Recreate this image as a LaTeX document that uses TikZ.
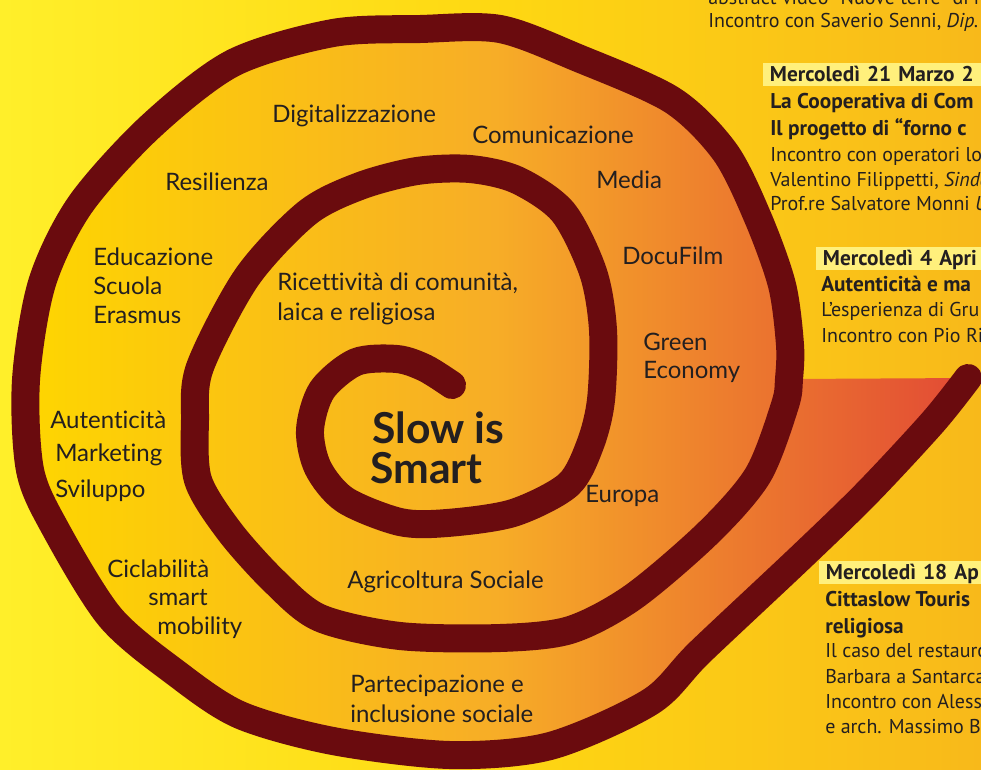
\documentclass[tikz,border=0pt]{standalone}
\usepackage{fontspec}
\setmainfont{Lato}[Ligatures=NoCommon]
\newfontfamily\infofont{PT Sans}
\usetikzlibrary{positioning}

\definecolor{snail}{HTML}{6A0B0E}
\definecolor{ink}{HTML}{231F20}
\definecolor{bgleft}{HTML}{FFEF2A}
\definecolor{bgmid}{HTML}{FED812}
\definecolor{bgright}{HTML}{F8B91A}
\definecolor{inleft}{HTML}{FED600}
\definecolor{inmid}{HTML}{F7AD27}
\definecolor{inright}{HTML}{E24A35}
\definecolor{hilite}{HTML}{FFF07C}

\tikzset{
  shell/.style={draw=snail, line width=21pt, line cap=round, line join=round},
  lbl/.style={font=\fontsize{18}{22}\selectfont, text=ink, anchor=base west, inner sep=0pt},
  motto/.style={font=\bfseries\fontsize{32}{38}\selectfont, text=ink, anchor=base west, inner sep=0pt},
  info/.style={font=\infofont\fontsize{15}{18}\selectfont, text=ink, anchor=base west, inner sep=0pt},
  infob/.style={info, font=\infofont\bfseries\fontsize{16}{19}\selectfont},
  datebox/.style={infob, fill=hilite, text width=200pt, align=left, inner xsep=5pt,
    inner ysep=0pt, text height=13.5pt, text depth=3.75pt}
}

\begin{document}
\begin{tikzpicture}[x=0.75pt, y=-0.75pt]

\path[use as bounding box, clip] (0,0) rectangle (981,769);

\shade[left color=bgleft, right color=bgright, middle color=bgmid] (0,0) rectangle (981,769);

\shade[left color=inleft, right color=inright, middle color=inmid]
  plot[smooth] coordinates {(789,379) (790,345) (782,285) (758,218) (725,152) (672,100)
  (578,58) (500,29) (420,29) (333,33) (233,63) (150,127) (80,205) (42,283) (26,380)
  (30,470) (55,528) (110,617) (176,673) (240,715) (333,741) (450,755) (550,746)
  (650,702) (700,652) (800,558) (867,493) (933,422) (968,378)} -- cycle;

\draw[shell] plot[smooth] coordinates {(452,385) (425,368) (397,359) (356,362) (322,390)
  (310,430) (318,468) (345,500) (400,522) (447,523) (513,513) (568,485) (590,445)
  (601,400) (603,330) (593,272) (563,212) (517,180) (470,169) (417,171) (360,186)
  (307,213) (247,277) (200,367) (195,420) (198,480) (230,532) (275,582) (320,618)
  (400,636) (500,638) (570,630) (633,597) (708,533) (758,475) (785,405) (789,379)
  (790,345) (782,285) (758,218) (725,152) (672,100) (578,58) (500,29) (420,29)
  (333,33) (233,63) (150,127) (80,205) (42,283) (26,380) (30,470) (55,528) (110,617)
  (176,673) (240,715) (333,741) (450,755) (550,746) (650,702) (700,652) (800,558)
  (867,493) (933,422) (968,378)};

\node[lbl] (dig) at (272,122) {Digitalizzazione};
\node[lbl] (com) at (472,143) {Comunicazione};
\node[lbl] (res) at (165,190) {Resilienza};
\node[lbl] (med) at (596,188) {Media};
\node[lbl] (edu) at (93,265) {Educazione};
\node[lbl, below=21.75pt of edu.base west, anchor=base west] (scu) {Scuola};
\node[lbl, below=21.75pt of scu.base west, anchor=base west] (era) {Erasmus};
\node[lbl] (ric) at (277,290) {Ricettività di comunità,};
\node[lbl, below=22.5pt of ric.base west, anchor=base west] (lai) {laica e religiosa};
\node[lbl] (doc) at (622,264) {DocuFilm};
\node[lbl] (gre) at (643,350) {Green};
\node[lbl, below=21pt of gre.base west, anchor=base west] (eco) {Economy};
\node[lbl] (aut) at (50,428) {Autenticità};
\node[lbl] (mar) at (55,461) {Marketing};
\node[lbl] (svi) at (55,497) {Sviluppo};
\node[motto] (slow) at (372,443) {Slow is};
\node[motto] (smart) at (370,483) {Smart};
\node[lbl] (eur) at (585,502) {Europa};
\node[lbl] (agr) at (347,588) {Agricoltura Sociale};
\node[lbl] (cic) at (107,577) {Ciclabilità};
\node[lbl] (sma) at (148,605) {smart};
\node[lbl] (mob) at (157,634) {mobility};
\node[lbl] (par) at (350,692) {Partecipazione e};
\node[lbl, below=22.5pt of par.base west, anchor=base west] (inc) {inclusione sociale};

\node[info] (abs) at (708,4) {abstract video “Nuove terre” di r};
\node[info, below=17.25pt of abs.base west, anchor=base west] (sav) {Incontro con Saverio Senni, \textit{Dip.}};

\node[datebox] (m21) at (763,81) {Mercoledì 21 Marzo 2};
\node[infob] (coop) at (770,108) {La Cooperativa di Com};
\node[infob, below=20.25pt of coop.base west, anchor=base west] (forno) {Il progetto di “forno c};
\node[info, below=19.5pt of forno.base west, anchor=base west] (oper) {Incontro con operatori  lo};
\node[info, below=18.75pt of oper.base west, anchor=base west] (val) {Valentino Filippetti, \textit{Sinda}};
\node[info, below=18pt of val.base west, anchor=base west] (mon) {Prof.re Salvatore Monni \textit{U}};

\node[datebox] (a4) at (816,265) {Mercoledì 4 Apri};
\node[infob] (autm) at (821,291) {Autenticità e ma};
\node[info, below=18.75pt of autm.base west, anchor=base west] (esp) {L’esperienza di Gru};
\node[info, below=19.5pt of esp.base west, anchor=base west] (pio) {Incontro con Pio Ri};

\node[datebox] (a18) at (819,579) {Mercoledì 18  Ap};
\node[infob] (cit) at (825,606) {Cittaslow Touris};
\node[infob, below=20.25pt of cit.base west, anchor=base west] (rel) {religiosa};
\node[info, below=18pt of rel.base west, anchor=base west] (caso) {Il  caso del restauro};
\node[info, below=19.5pt of caso.base west, anchor=base west] (bar) {Barbara a Santarca};
\node[info, below=18.75pt of bar.base west, anchor=base west] (ale) {Incontro con Aless};
\node[info, below=18.75pt of ale.base west, anchor=base west] (arc) {e arch. Massimo Bo};

\end{tikzpicture}
\end{document}
